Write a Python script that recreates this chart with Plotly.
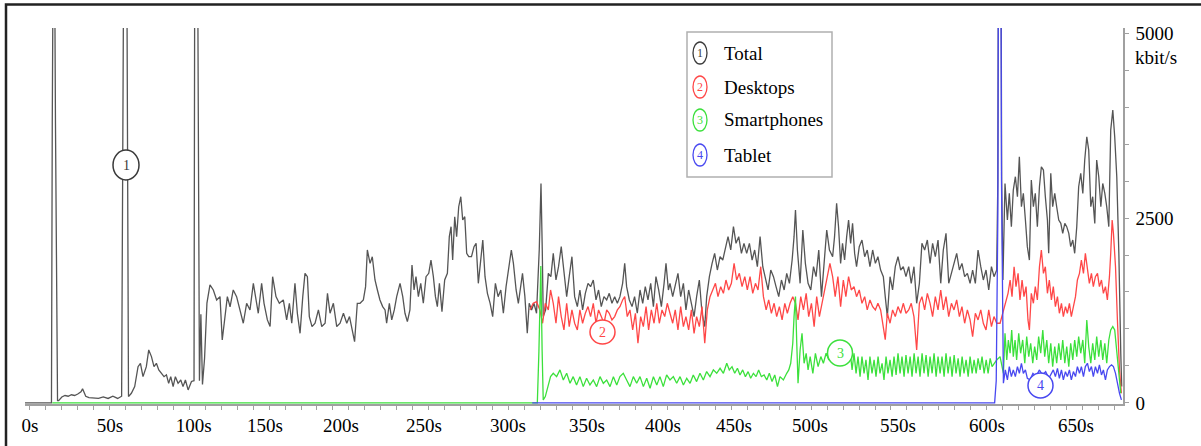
import plotly.graph_objects as go

# ---------------- data (time in s, rate in kbit/s) ----------------
total = [
    (-3.1, 0), (13.5, 0), (14.0, 3800), (15.0, 8000), (16.0, 3800), (17.3, 30), (18, 30), (20, 80), (22, 100),
    (24, 90), (26, 110), (28, 100), (30, 120), (32, 150), (33, 190), (35, 90), (37, 70), (40, 60), (43, 60),
    (46, 80), (49, 60), (52, 90), (55, 60), (57.5, 90),
    (58.3, 4000), (59.2, 8000), (60.4, 8000), (61.3, 3800), (61.8, 85), (63.6, 130), (65.7, 220), (67.8, 490),
    (69.3, 536), (70.9, 355), (73.0, 490), (74.5, 716), (76.2, 626), (77.8, 490), (79.3, 536), (80.8, 446),
    (82.4, 400), (84.1, 355), (85.6, 380), (87.0, 265), (88.3, 355), (89.8, 220), (91.2, 355), (92.9, 265),
    (94.6, 310), (96.0, 220), (97.5, 310), (99.2, 175), (101.3, 290), (102.9, 300),
    (103.5, 8000), (104.8, 8000), (105.6, 3800), (106.3, 300), (107.2, 1200), (108.2, 250), (109.5, 600),
    (111.0, 1350), (112.9, 1595), (115.0, 1527), (117.1, 1392), (119.2, 1437), (120.6, 851), (122.3, 1167),
    (123.8, 1437), (125.5, 1300), (127.5, 1527), (129.6, 1437), (131.7, 1257), (133.8, 1077), (135.9, 1347),
    (138.0, 1257), (140.1, 1617), (141.8, 1392), (143.2, 1212), (145.3, 1617), (146.8, 1347), (148.9, 1122),
    (150.6, 1032), (152.2, 1707), (154.3, 1437), (156.4, 1347), (158.9, 1392), (161.0, 1122), (162.7, 1347),
    (164.2, 1077), (166.2, 1617), (167.7, 1212), (169.4, 941), (171.1, 1437), (172.5, 1752), (174.0, 1707),
    (175.2, 1167), (176.9, 1032), (178.8, 1077), (180.9, 1257), (183.0, 1032), (185.1, 1077), (186.6, 1482),
    (188.2, 1212), (190.3, 1347), (192.4, 1032), (194.5, 1077), (196.6, 1212), (198.7, 1077), (200.4, 1167),
    (202.8, 896), (203.6, 829), (205.3, 1347), (207.0, 1347), (209.1, 1392), (210.5, 1572), (211.6, 2068),
    (213.3, 1887), (214.7, 1977), (216.4, 1662), (217.9, 1527), (219.5, 1392), (221.2, 1302), (222.7, 1257),
    (223.7, 1077), (225.4, 1347), (226.9, 1122), (228.5, 1257), (230.0, 1437), (232.1, 1617), (233.8, 1437),
    (235.2, 1212), (236.7, 1099), (238.3, 1257), (239.6, 1865), (240.9, 1527), (242.1, 1707), (243.6, 1437),
    (245.1, 1617), (246.7, 1347), (248.4, 1707), (250.1, 1752), (251.5, 1932), (253.0, 1707), (254.3, 1437),
    (255.5, 1302), (256.8, 1617), (258.4, 1234), (260.1, 1662), (261.8, 1752), (263.0, 2248), (264.1, 2383),
    (265.1, 1932), (266.4, 2518), (267.6, 2248), (268.9, 2653), (270.2, 2788), (271.4, 2473), (272.7, 2518),
    (273.9, 2022), (275.2, 1977), (276.9, 1977), (278.5, 2113), (279.8, 2158), (281.2, 1617), (282.7, 1887),
    (284.0, 2203), (285.4, 1707), (286.9, 1482), (288.6, 1347), (290.2, 1167), (291.9, 1617), (293.6, 1437),
    (295.3, 1527), (296.9, 1212), (298.6, 1572), (300.3, 1797), (301.9, 2068), (303.2, 1887), (304.9, 1527),
    (306.3, 1347), (307.3, 1527), (308.9, 1752), (310.4, 1437), (311.9, 941), (313.1, 1347), (314.6, 1257),
    (316.1, 1347), (317.7, 1212), (319.4, 2068), (320.5, 2968), (321.3, 2068), (321.9, 1167), (323.4, 1257),
    (325.1, 1752), (326.7, 1707), (328.2, 2022), (329.9, 1662), (331.5, 1842), (333.2, 2113), (334.9, 1752),
    (336.6, 1437), (338.2, 1707), (339.9, 1977), (341.6, 1437), (343.3, 1302), (344.9, 1527), (346.6, 1257),
    (348.3, 1482), (350.0, 1617), (351.6, 1572), (353.3, 1662), (355.0, 1392), (356.6, 1527), (358.3, 1302),
    (360.0, 1437), (361.7, 1392), (363.3, 1482), (365.0, 1347), (366.7, 1437), (368.4, 1347), (370.0, 1437),
    (371.7, 1617), (373.0, 1887), (374.2, 1572), (375.9, 1392), (377.6, 1302), (379.2, 1437), (380.9, 1212),
    (382.6, 1527), (384.3, 1347), (385.9, 1572), (387.6, 1392), (389.3, 1617), (391.0, 1302), (392.6, 1707),
    (394.3, 1527), (396.0, 1302), (397.7, 1617), (398.9, 1887), (400.4, 1527),
    (401.4, 1617), (403.1, 1437), (404.7, 1572), (406.4, 1752), (408.1, 1437), (409.8, 1617), (411.4, 1257),
    (413.1, 1527), (414.8, 1347), (416.5, 1167), (418.1, 1437), (419.8, 1662), (421.5, 1212), (423.2, 1032),
    (424.4, 1437), (426.1, 1707), (427.8, 1887), (429.4, 2022), (431.1, 1797), (432.8, 1977), (434.5, 1932),
    (436.1, 2068), (437.8, 2248), (439.5, 2068), (441.2, 2383), (442.8, 2158), (444.5, 2248), (446.2, 2022),
    (447.8, 2158), (449.5, 2022), (451.2, 2158), (452.9, 1932), (454.5, 2068), (456.2, 1842), (457.9, 2248),
    (459.6, 1842), (461.2, 1707), (462.9, 1527), (464.6, 1797), (466.3, 1707), (467.9, 1572), (469.6, 1437),
    (471.3, 1662), (473.0, 1527), (474.6, 1752), (476.3, 1617), (478.0, 1932), (479.2, 2248), (480.1, 2608),
    (481.3, 2068), (483.0, 1617), (484.7, 2338), (486.3, 1887), (488.0, 1617), (489.7, 1527), (491.4, 1842),
    (493.0, 1707), (494.7, 2068), (496.4, 1437), (498.1, 1932), (499.7, 2338), (501.4, 2068),
    (503.4, 1977), (504.6, 2248), (505.9, 2698), (507.1, 2383), (508.4, 1887), (509.6, 2158), (510.9, 1932),
    (512.2, 2248), (513.4, 2473), (514.7, 2158), (515.9, 2428), (517.2, 2022), (518.4, 1842), (520.1, 2113),
    (521.8, 2203), (523.5, 1977), (525.1, 2068), (526.8, 1842), (528.5, 2068), (530.2, 1887), (531.8, 1977),
    (533.5, 1797), (535.2, 1707), (536.4, 1437), (537.7, 1167), (539.4, 1707), (541.0, 1527), (542.7, 1842),
    (544.4, 1977), (546.1, 1797), (547.7, 1842), (549.4, 1707), (551.1, 1842), (552.7, 1617), (554.4, 1842),
    (556.1, 1347), (557.8, 1617), (559.4, 2158), (561.1, 2068), (562.8, 2203), (564.5, 1887), (566.1, 2158),
    (567.8, 1977), (569.5, 2203), (571.2, 1617), (572.8, 2068), (574.5, 2293), (576.2, 1617), (577.9, 1752),
    (579.5, 1887), (581.2, 2022), (582.9, 1797), (584.5, 1887), (586.2, 1707), (587.9, 1752), (589.6, 1617),
    (591.2, 1797), (592.9, 1617), (594.6, 2068), (596.3, 1842), (597.9, 1662), (599.6, 1797), (601.3, 1527),
    (603.0, 1842), (604.6, 1707), (606.3, 1797),
    (607.0, 3000), (607.6, 8000), (608.8, 8000), (609.4, 3000), (610.2, 1662), (611.5, 2968), (613.0, 2473),
    (614.2, 2833), (615.5, 2383), (616.7, 2878), (618.0, 3059), (619.3, 2788), (620.5, 3329), (621.8, 2653),
    (623.0, 2833), (624.3, 2473), (625.5, 2113), (626.8, 1932), (628.0, 3014), (629.3, 2653), (630.5, 2833),
    (631.8, 2383), (633.1, 2923), (634.3, 3194), (635.6, 3149), (636.8, 2788), (638.1, 2473), (638.9, 2023),
    (640.2, 3104), (641.4, 2653), (642.7, 2833), (643.9, 2653), (645.2, 2473), (646.5, 2428), (647.7, 2293),
    (649.0, 2428), (650.2, 2383), (651.5, 2293), (652.7, 2113), (654.0, 2203), (655.2, 2023), (656.5, 2383),
    (657.7, 2923), (659.0, 3104), (660.3, 2833), (661.5, 3284), (662.8, 3599), (664.0, 3419), (665.3, 2653),
    (666.5, 2788), (667.8, 2428), (669.0, 3284), (670.3, 3059), (671.6, 2653), (672.8, 2968), (674.1, 2833),
    (675.3, 2653), (676.6, 2383), (677.8, 3689), (679.1, 3959), (680.3, 3599), (681.6, 3059), (682.9, 2023),
    (684.1, 671), (684.7, 221),
]

desktops = [
    (313.6, 1257), (315.6, 1347), (317.7, 1369), (319.8, 1257), (321.5, 1077), (323.2, 1347), (325.1, 1257),
    (326.5, 1527), (328.2, 1347), (329.9, 1077), (331.5, 1437), (333.2, 1167), (334.9, 987), (336.6, 1347),
    (338.2, 1032), (339.9, 1257), (341.6, 1077), (343.3, 987), (344.9, 1257), (346.6, 1077), (348.3, 1212),
    (350.0, 1302), (351.6, 1167), (353.3, 1347), (355.0, 1077), (356.6, 1257), (358.3, 1167), (360.0, 1077),
    (361.7, 1257), (363.3, 1212), (365.0, 1122), (366.7, 1167), (368.4, 1257), (370.0, 1302), (371.7, 1392),
    (373.0, 1437), (374.6, 1167), (376.3, 1257), (378.0, 987), (379.7, 1212), (381.3, 806), (383.0, 1167),
    (384.7, 1032), (386.4, 1302), (388.0, 987), (389.7, 1257), (391.4, 1077), (393.1, 1347), (394.7, 1077),
    (396.4, 1257), (398.1, 1167), (399.7, 1347),
    (401.4, 1212), (403.1, 1077), (404.7, 1257), (406.4, 987), (408.1, 1302), (409.8, 1032), (411.4, 1167),
    (413.1, 987), (414.8, 1257), (416.5, 941), (418.1, 1167), (419.8, 1032), (421.5, 1302), (423.2, 806),
    (424.8, 1257), (426.5, 1437), (428.2, 1527), (429.9, 1617), (431.5, 1437), (433.2, 1572), (434.9, 1482),
    (436.5, 1662), (438.2, 1527), (439.9, 1617), (441.6, 1887), (443.2, 1662), (444.9, 1752), (446.6, 1572),
    (448.3, 1707), (449.9, 1527), (451.6, 1707), (453.3, 1482), (455.0, 1617), (456.6, 1527), (458.3, 1842),
    (460.0, 1437), (461.7, 1257), (463.3, 1392), (465.0, 1212), (466.7, 1347), (468.3, 1167), (470.0, 1302),
    (471.7, 1122), (473.4, 1347), (475.0, 1212), (476.7, 1347), (478.4, 1437), (480.1, 1347), (481.7, 1122),
    (483.4, 1437), (485.1, 1257), (486.8, 1482), (488.4, 1167), (490.1, 1347), (491.8, 1032), (493.4, 1437),
    (495.1, 1167), (496.8, 1347), (498.5, 1527), (500.1, 1707),
    (501.7, 1887), (503.4, 1707), (505.0, 1437), (506.7, 1707), (508.4, 1302), (510.1, 1662), (511.7, 1437),
    (513.4, 1707), (515.1, 1527), (516.8, 1572), (518.4, 1437), (520.1, 1527), (521.8, 1347), (523.5, 1437),
    (525.1, 1257), (526.8, 1392), (528.5, 1302), (530.2, 1257), (531.8, 1347), (533.5, 1257), (535.2, 1032),
    (536.4, 856), (537.7, 1212), (539.4, 1077), (541.0, 1257), (542.7, 1167), (544.4, 1302), (546.1, 1212),
    (547.7, 1347), (549.4, 1212), (551.1, 1257), (552.7, 1347), (554.4, 1167), (556.1, 716), (557.8, 1347),
    (559.4, 1437), (561.1, 1257), (562.8, 1482), (564.5, 1347), (566.1, 1167), (567.8, 1437), (569.5, 1257),
    (571.2, 1527), (572.8, 1257), (574.5, 1437), (576.2, 1167), (577.9, 1347), (579.5, 1257), (581.2, 1392),
    (582.9, 1167), (584.5, 1302), (586.2, 1077), (587.9, 1257), (589.6, 1122), (591.2, 896), (592.9, 1212),
    (594.6, 1122), (596.3, 1257), (597.9, 1077), (599.6, 987), (601.3, 1257), (603.0, 1032), (604.6, 1167),
    (606.3, 1077),
    (608.4, 1077), (610.0, 1212), (611.7, 1347), (613.4, 1482), (614.7, 1662), (615.9, 1437), (617.2, 1842),
    (618.4, 1572), (619.7, 1752), (620.9, 1392), (622.2, 1662), (623.4, 1437), (624.7, 1572), (625.9, 1122),
    (626.8, 986), (628.0, 1482), (629.3, 1347), (630.5, 1572), (631.8, 1392), (633.1, 1842), (634.3, 2068),
    (635.6, 1752), (636.8, 1842), (638.1, 1482), (639.3, 1662), (640.6, 1392), (641.8, 1572), (643.1, 1302),
    (644.4, 1437), (645.6, 1212), (646.9, 1347), (648.1, 1167), (649.4, 1302), (650.6, 1212), (651.9, 1347),
    (653.1, 1167), (654.4, 1302), (655.7, 1437), (656.9, 1662), (658.2, 1752), (659.4, 1932), (660.7, 1752),
    (661.9, 2023), (663.2, 1842), (664.4, 1617), (665.7, 1752), (666.9, 1572), (668.2, 1707), (669.5, 1752),
    (670.7, 1572), (672.0, 1662), (673.2, 1482), (674.5, 1572), (675.7, 1392), (677.0, 1707), (677.8, 2023),
    (678.7, 2473), (679.5, 2293), (680.8, 1842), (682.0, 1122), (683.3, 446), (684.5, 130),
]

smartphones = [
    (14.0, 0), (318.2, 0), (319.2, 700), (320.4, 1850), (321.2, 716), (321.9, 40), (323.2, 85), (325.1, 265),
    (326.5, 355), (328.2, 400), (330.3, 355), (332.4, 446), (334.5, 310), (336.6, 400), (338.7, 265),
    (340.7, 355), (342.8, 243), (344.9, 355), (347.0, 220), (349.1, 333), (351.2, 243), (353.3, 310),
    (355.4, 220), (357.5, 355), (359.6, 265), (361.7, 310), (363.8, 220), (365.9, 355), (368.0, 243),
    (370.0, 355), (372.1, 400), (374.2, 310), (376.3, 220), (378.4, 355), (380.5, 265), (382.6, 355),
    (384.7, 220), (386.8, 333), (388.9, 198), (391.0, 355), (393.1, 243), (395.1, 355), (397.2, 220),
    (399.3, 378),
    (401.4, 310), (403.5, 355), (405.6, 265), (407.7, 355), (409.8, 243), (411.9, 333), (414.0, 265),
    (416.0, 378), (418.1, 288), (420.2, 400), (422.3, 310), (424.4, 423), (426.5, 355), (428.6, 446),
    (430.7, 400), (432.8, 468), (434.9, 400), (437.0, 536), (438.6, 446), (440.3, 490), (442.0, 400),
    (443.7, 468), (445.3, 378), (447.0, 446), (448.7, 355), (450.4, 423), (452.0, 333), (453.7, 400),
    (455.4, 355), (457.0, 446), (458.7, 355), (460.4, 378), (462.1, 310), (463.7, 400), (465.4, 288),
    (467.1, 378), (468.8, 220), (470.4, 355), (472.5, 310), (474.6, 400), (475.9, 446), (477.1, 536),
    (478.4, 806), (479.2, 1167), (480.1, 1437), (480.9, 806), (481.7, 265), (483.0, 716), (484.2, 941),
    (485.5, 536), (486.8, 671), (488.0, 446), (489.3, 626), (491.0, 400), (492.6, 671), (494.3, 490),
    (496.0, 626), (497.6, 536), (499.3, 671), (501.0, 581), (502.7, 716), (503.9, 626), (506.0, 761),
    (508.0, 700), (510.0, 680), (512.0, 700),
    (514.3, 716), (515.6, 446), (516.8, 671), (518.1, 400), (519.3, 626), (520.6, 355), (521.8, 626),
    (523.1, 400), (524.3, 581), (525.6, 310), (526.8, 626), (528.1, 400), (529.4, 581), (530.6, 355),
    (531.9, 626), (533.1, 400), (534.4, 536), (535.6, 310), (536.9, 626), (538.1, 400), (539.4, 581),
    (540.7, 355), (541.9, 626), (543.2, 378), (544.4, 671), (545.7, 400), (546.9, 626), (548.2, 355),
    (549.4, 648), (550.7, 400), (552.0, 626), (553.2, 355), (554.5, 671), (555.7, 400), (557.0, 626),
    (558.2, 355), (559.5, 671), (560.7, 400), (562.0, 648), (563.3, 355), (564.5, 626), (565.8, 400),
    (567.0, 671), (568.3, 355), (569.5, 626), (570.8, 400), (572.0, 626), (573.3, 355), (574.5, 671),
    (575.8, 400), (577.1, 626), (578.3, 355), (579.6, 648), (580.8, 400), (582.1, 603), (583.3, 355),
    (584.6, 626), (585.8, 400), (587.1, 581), (588.4, 355), (589.6, 626), (590.9, 400), (592.1, 581),
    (593.4, 400), (594.6, 603), (595.9, 446), (597.1, 626), (598.4, 400), (599.7, 581), (600.9, 400),
    (602.2, 603), (603.4, 490), (604.7, 536), (606.3, 581),
    (608.4, 626), (610.5, 400), (611.5, 941), (612.6, 581), (613.6, 851), (614.7, 671), (615.7, 986),
    (616.7, 626), (617.8, 851), (618.8, 581), (620.1, 941), (621.3, 671), (622.6, 851), (623.9, 536),
    (625.1, 896), (626.4, 626), (627.6, 806), (628.9, 536), (630.1, 761), (631.4, 581), (632.6, 896),
    (633.9, 671), (635.2, 986), (636.4, 626), (637.7, 851), (638.9, 536), (640.2, 806), (641.4, 491),
    (642.7, 761), (643.9, 536), (645.2, 806), (646.5, 581), (647.7, 851), (649.0, 536), (650.2, 761),
    (651.5, 491), (652.7, 806), (654.0, 581), (655.2, 851), (656.5, 626), (657.7, 896), (659.0, 671),
    (660.3, 851), (661.5, 536), (662.8, 1122), (664.0, 761), (665.3, 536), (666.5, 806), (667.8, 581),
    (669.0, 896), (670.3, 626), (671.6, 851), (672.8, 581), (674.1, 806), (675.3, 536), (676.6, 851),
    (677.8, 986), (679.1, 1032), (680.3, 986), (681.6, 671), (682.9, 400), (684.1, 130),
]

tablet = [
    (315.0, 0), (605.0, 0), (606.0, 300), (607.0, 2500), (607.6, 8000), (608.7, 8000), (609.3, 3000),
    (609.9, 1500), (610.5, 266), (611.7, 446), (613.0, 311), (614.2, 491), (615.5, 356), (616.7, 446),
    (618.0, 356), (619.3, 491), (620.5, 400), (621.8, 536), (623.0, 400), (624.3, 446), (625.5, 333),
    (627.2, 311), (629.0, 400), (631.0, 356), (633.0, 446), (635.0, 378), (637.0, 423), (639.0, 333),
    (641.8, 446), (643.1, 356), (644.4, 468), (645.6, 333), (646.9, 446), (648.1, 311), (649.4, 423),
    (650.6, 356), (651.9, 446), (653.1, 311), (654.4, 423), (655.7, 356), (656.9, 491), (658.2, 400),
    (659.4, 491), (660.7, 356), (661.9, 491), (663.2, 536), (664.4, 423), (665.7, 491), (666.9, 356),
    (668.2, 491), (669.5, 400), (670.7, 513), (672.0, 378), (673.2, 446), (674.5, 311), (675.7, 446),
    (677.0, 491), (678.3, 513), (679.5, 491), (680.8, 400), (682.0, 266), (683.3, 130), (684.5, 40),
]

series_names = ["Total", "Desktops", "Smartphones", "Tablet"]
series_data = [total, desktops, smartphones, tablet]
line_colors = ["#555555", "#ff4747", "#3ce03c", "#4848f0"]
circle_colors = ["#3a3a3a", "#ff4747", "#3ce03c", "#4848f0"]

x_label_pos = [0, 50.2, 102.7, 147.4, 195.0, 247.1, 299.8, 349.3, 397.0, 441.5, 489.2, 544.4, 600.2, 656.0]
x_label_text = ["0s", "50s", "100s", "150s", "200s", "250s", "300s", "350s", "400s",
                "450s", "500s", "550s", "600s", "650s"]
y_tick_vals = [0, 500, 1000, 1500, 2000, 2500, 3000, 3500, 4000, 4500, 5000]
y_tick_text = ["0", "", "", "", "", "2500", "", "", "", "", "5000"]
y_unit = "kbit/s"

# ---------------- layout geometry ----------------
W, H = 1201, 446
ML, MR, MT, MB = 25, 78, 28, 42
PW, PH = W - ML - MR, H - MT - MB
FONT = "Liberation Serif"


def px(x):
    return (x - ML) / PW


def py(y):
    return (H - MB - y) / PH


fig = go.Figure()
for name, pts, col in zip(series_names, series_data, line_colors):
    t, v = zip(*pts)
    fig.add_trace(go.Scatter(x=list(t), y=list(v), mode="lines", name=name,
                             line=dict(color=col, width=1.3), showlegend=False,
                             hoverinfo="skip"))
# carrier for the label axis
fig.add_trace(go.Scatter(x=[None], y=[None], xaxis="x2", showlegend=False, hoverinfo="skip"))

shapes = []
annotations = []

# outer frame
shapes.append(dict(type="rect", xref="paper", yref="paper", x0=px(6), x1=px(1212),
                   y0=py(460), y1=py(4.5), line=dict(color="#222222", width=2.5),
                   fillcolor="rgba(0,0,0,0)", layer="above"))

# legend box
shapes.append(dict(type="rect", xref="paper", yref="paper", x0=px(687), x1=px(832),
                   y0=py(177), y1=py(32), line=dict(color="#b0b0b0", width=1.5),
                   fillcolor="white", layer="above"))
leg_y = [53, 87, 120, 155]
for i, (name, col) in enumerate(zip(series_names, circle_colors)):
    cy = leg_y[i]
    shapes.append(dict(type="circle", xref="paper", yref="paper", x0=px(693), x1=px(707),
                       y0=py(cy + 11), y1=py(cy - 11), line=dict(color=col, width=1.3),
                       fillcolor="white", layer="above"))
    annotations.append(dict(xref="paper", yref="paper", x=px(700), y=py(cy), text=str(i + 1),
                            showarrow=False, xanchor="center", yanchor="middle",
                            font=dict(family=FONT, size=12, color=col)))
    annotations.append(dict(xref="paper", yref="paper", x=px(722), y=py(cy), text=name,
                            showarrow=False, xanchor="left", yanchor="middle",
                            font=dict(family=FONT, size=19, color="black")))

# circled markers on the curves
markers = [(126, 165, 13, 15), (602.5, 332, 12.5, 12), (840, 353, 12.5, 13), (1040.5, 385.5, 12.5, 12.5)]
for i, ((cx, cy, rx, ry), col) in enumerate(zip(markers, circle_colors)):
    shapes.append(dict(type="circle", xref="paper", yref="paper", x0=px(cx - rx), x1=px(cx + rx),
                       y0=py(cy + ry), y1=py(cy - ry), line=dict(color=col, width=1.5),
                       fillcolor="white", layer="above"))
    annotations.append(dict(xref="paper", yref="paper", x=px(cx), y=py(cy), text=str(i + 1),
                            showarrow=False, xanchor="center", yanchor="middle",
                            font=dict(family=FONT, size=14, color=col)))

annotations.append(dict(xref="paper", yref="paper", x=px(1133), y=py(57), text=y_unit,
                        showarrow=False, xanchor="left", yanchor="middle",
                        font=dict(family=FONT, size=19, color="black")))

tickfont = dict(family=FONT, size=19, color="black")
fig.update_layout(
    width=W, height=H,
    margin=dict(l=ML, r=MR, t=MT, b=MB, pad=0, autoexpand=False),
    paper_bgcolor="white", plot_bgcolor="white",
    showlegend=False,
    xaxis=dict(range=[-3.1, 685.5], showline=True, linecolor="#a0a0a0", linewidth=1.5,
               ticks="outside", tick0=0, dtick=10, ticklen=4, tickcolor="#a0a0a0", tickwidth=1,
               showticklabels=False, showgrid=False, zeroline=False, fixedrange=True,
               automargin=False),
    xaxis2=dict(range=[-3.1, 685.5], overlaying="x", side="bottom", anchor="y",
                tickmode="array", tickvals=x_label_pos, ticktext=x_label_text, ticks="",
                ticklabelstandoff=8, automargin=False,
                showline=False, showgrid=False, zeroline=False, tickfont=tickfont),
    yaxis=dict(range=[-15, 5070], side="right", showline=True, linecolor="#a0a0a0", linewidth=1.5,
               ticks="outside", ticklen=4, tickcolor="#a0a0a0", tickwidth=1,
               tickmode="array", tickvals=y_tick_vals, ticktext=y_tick_text,
               ticklabelstandoff=3, automargin=False,
               tickfont=tickfont, showgrid=False, zeroline=False),
    shapes=shapes,
    annotations=annotations,
)

fig.write_html("out.html")
